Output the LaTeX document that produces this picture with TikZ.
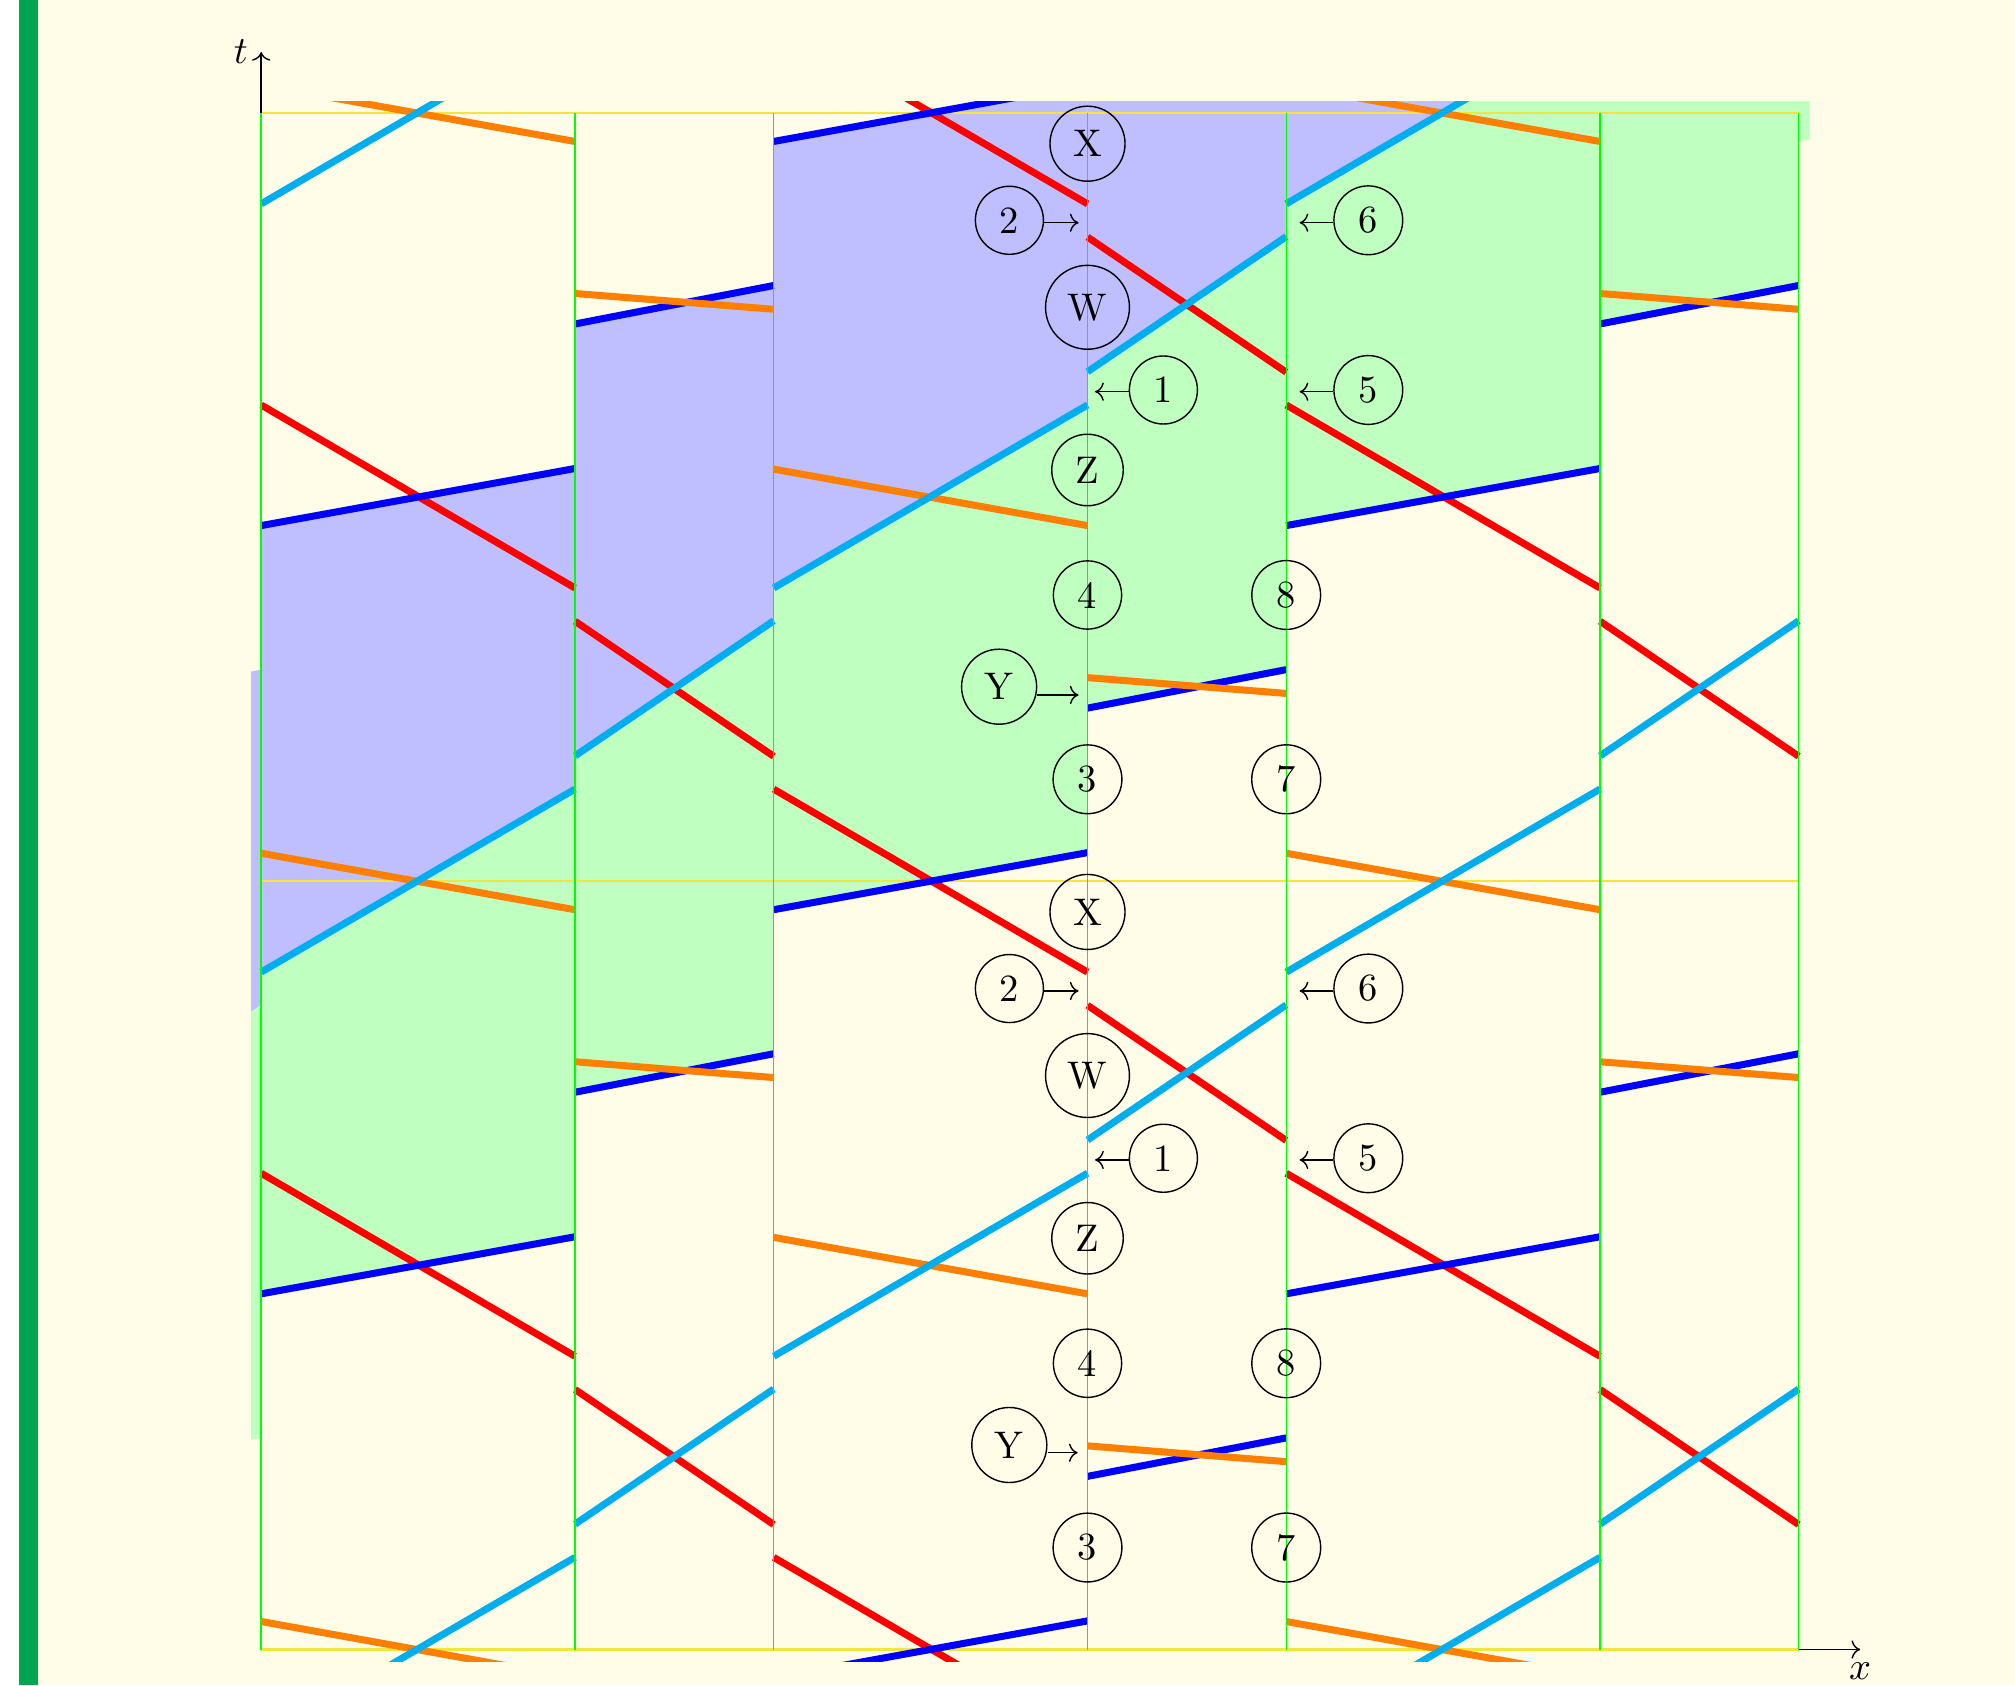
\documentclass[tikz,border=0pt,11pt]{standalone}
\usepackage{xcolor}
\usepackage{tikz}
\usetikzlibrary{positioning,arrows.meta,calc}
\definecolor{slidebg}{HTML}{FFFCE8}
\definecolor{sidebar}{HTML}{00A550}
\definecolor{skyline}{HTML}{00AEEF}
\definecolor{gridyellow}{HTML}{F2E63C}

\begin{document}
\begin{tikzpicture}[x=1cm, y=1cm,
  lbl/.style={circle, draw},
  ray/.style={line width=2pt}]
\useasboundingbox (-2.612,-0.355) rectangle (17.538,16.495);
% slide
\fill[white] (-2.612,-0.355) rectangle (-2.422,16.495);
\fill[sidebar] (-2.422,-0.355) rectangle (-2.235,16.495);
\fill[slidebg] (-2.235,-0.355) rectangle (17.538,16.495);
% shaded band, cell by cell
\begin{scope}
\clip (-0.1,-0.12) rectangle (15.485,15.478);
\foreach \k in {-1,0,1,2,3} {
  \begin{scope}[shift={({\k*5.125},{\k*3.84125})}]
    \fill[blue!25] (0,11.239) -- (3.138,11.81) -- (3.138,8.604) -- (0,6.774) -- cycle;
    \fill[blue!25] (3.138,13.255) -- (5.125,13.64) -- (5.125,10.287) -- (3.138,8.936) -- cycle;
    \fill[green!25] (0,6.774) -- (3.138,8.604) -- (3.138,4.1275) -- (0,3.5565) -- cycle;
    \fill[green!25] (3.138,8.936) -- (5.125,10.287) -- (5.125,5.9575) -- (3.138,5.5725) -- cycle;
  \end{scope}
}
\end{scope}
% periods
\foreach \y in {0,7.6825,15.365}
  \draw[gridyellow, line width=0.6pt] (0,\y) -- (15.375,\y);
% rays
\begin{scope}
\clip (-1,-0.12) rectangle (16.5,15.478);
\foreach \col/\ta/\tb/\tc/\td in {red/12.445/10.615/10.283/8.932, blue/11.239/11.81/13.255/13.64, orange/15.645/15.08/13.56/13.402, skyline/6.774/8.604/8.936/10.287}
  \foreach \k in {0,1,2}
    \foreach \p in {-3,...,1}
      \draw[ray, color=\col, shift={({\k*5.125},{\k*3.84125+\p*7.6825})}] (0,\ta) -- (3.138,\tb) (3.138,\tc) -- (5.125,\td);
\end{scope}
% interfaces
\foreach \x in {0,3.138,5.125,8.263,10.25,13.388,15.375}
  \draw[green] (\x,0) -- (\x,15.365);
% axes
\coordinate (otop) at (0,15.365);
\coordinate (ttip) at (0,15.975);
\coordinate (oright) at (15.375,0);
\coordinate (xtip) at (15.99,0);
\draw[->] (otop) -- (ttip);
\draw[->] (oright) -- (xtip);
\node[left] (tlab) at (ttip) {$t$};
\node[below] (xlab) at (xtip) {$x$};
% labels, one set per period
\foreach \p/\s in {a/0,b/7.6825} {
  \node[lbl] (X\p) at (8.263,{15.058-\s}) {X};
  \node[lbl] (W\p) at (8.263,{13.422-\s}) {W};
  \node[lbl] (Z\p) at (8.263,{11.795-\s}) {Z};
  \node[lbl] (n4\p) at (8.263,{10.545-\s}) {4};
  \node[lbl] (n8\p) at (10.25,{10.545-\s}) {8};
  \node[lbl] (n3\p) at (8.263,{8.702-\s}) {3};
  \node[lbl] (n7\p) at (10.25,{8.702-\s}) {7};
  \node[lbl] (n2\p) at (7.482,{14.292-\s}) {2};
  \node[lbl] (n6\p) at (11.071,{14.292-\s}) {6};
  \node[lbl] (n1\p) at (9.022,{12.595-\s}) {1};
  \node[lbl] (n5\p) at (11.071,{12.595-\s}) {5};
  \coordinate (j2\p) at (8.174,{14.268-\s});
  \coordinate (j6\p) at (10.384,{14.268-\s});
  \coordinate (j1\p) at (8.339,{12.578-\s});
  \coordinate (j5\p) at (10.384,{12.578-\s});
  \draw[->] (n2\p.east |- j2\p) -- (j2\p);
  \draw[->] (n6\p.west |- j6\p) -- (j6\p);
  \draw[->] (n1\p.west |- j1\p) -- (j1\p);
  \draw[->] (n5\p.west |- j5\p) -- (j5\p);
}
\node[lbl] (Ya) at (7.379,9.628) {Y};
\node[lbl] (Yb) at (7.481,2.045) {Y};
\coordinate (jYa) at (8.174,9.545);
\coordinate (jYb) at (8.165,1.968);
\draw[->] (Ya.east |- jYa) -- (jYa);
\draw[->] (Yb.east |- jYb) -- (jYb);
\end{tikzpicture}
\end{document}
